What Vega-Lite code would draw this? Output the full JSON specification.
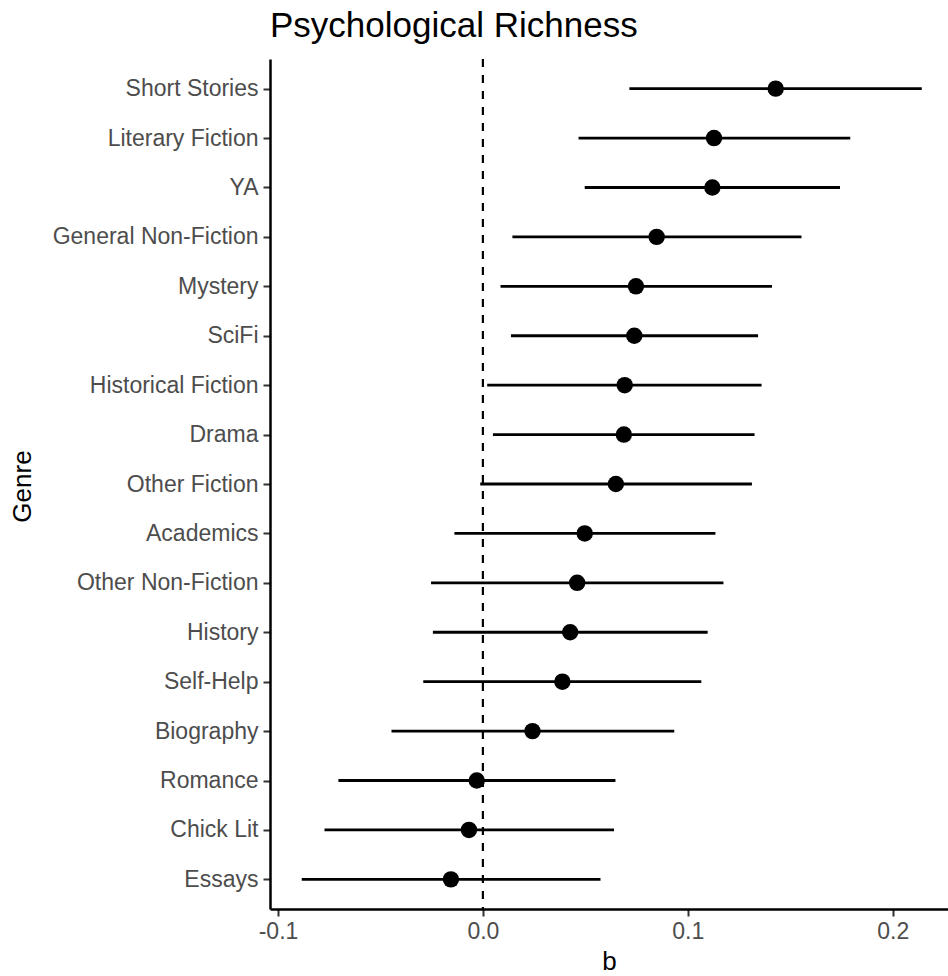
{
  "$schema": "https://vega.github.io/schema/vega-lite/v6.json",
  "width": 678,
  "height": 850,
  "autosize": {"type": "none"},
  "padding": {"left": 270, "top": 59, "right": 0, "bottom": 67},
  "background": "white",
  "title": {
    "text": "Psychological Richness",
    "anchor": "start",
    "frame": "group",
    "font": "Liberation Sans",
    "fontSize": 35,
    "fontWeight": "normal",
    "color": "#000000",
    "offset": 14
  },
  "datasets": {
    "estimates": [
      {"genre": "Short Stories", "b": 0.1429, "lower": 0.0715, "upper": 0.2142},
      {"genre": "Literary Fiction", "b": 0.1128, "lower": 0.0467, "upper": 0.1793},
      {"genre": "YA", "b": 0.112, "lower": 0.0497, "upper": 0.1743},
      {"genre": "General Non-Fiction", "b": 0.0848, "lower": 0.0144, "upper": 0.1555},
      {"genre": "Mystery", "b": 0.0747, "lower": 0.0086, "upper": 0.1411},
      {"genre": "SciFi", "b": 0.0739, "lower": 0.0137, "upper": 0.1343},
      {"genre": "Historical Fiction", "b": 0.0692, "lower": 0.0021, "upper": 0.136},
      {"genre": "Drama", "b": 0.0688, "lower": 0.0049, "upper": 0.1326},
      {"genre": "Other Fiction", "b": 0.0649, "lower": -0.0013, "upper": 0.1313},
      {"genre": "Academics", "b": 0.0497, "lower": -0.0139, "upper": 0.1135},
      {"genre": "Other Non-Fiction", "b": 0.046, "lower": -0.0253, "upper": 0.1174},
      {"genre": "History", "b": 0.0426, "lower": -0.0244, "upper": 0.1097},
      {"genre": "Self-Help", "b": 0.0388, "lower": -0.0291, "upper": 0.1066},
      {"genre": "Biography", "b": 0.0242, "lower": -0.0446, "upper": 0.0934},
      {"genre": "Romance", "b": -0.003, "lower": -0.0705, "upper": 0.0647},
      {"genre": "Chick Lit", "b": -0.0068, "lower": -0.0773, "upper": 0.064},
      {"genre": "Essays", "b": -0.0156, "lower": -0.0884, "upper": 0.0574}
    ],
    "reference": [{"ref": 0}]
  },
  "config": {
    "view": {"stroke": null},
    "axis": {
      "domainColor": "#000000",
      "domainWidth": 2.5,
      "tickColor": "#333333",
      "tickWidth": 2,
      "tickSize": 7,
      "grid": false,
      "labelFont": "Liberation Sans",
      "labelFontSize": 23,
      "labelColor": "#4D4D4D",
      "labelLimit": 0,
      "titleFont": "Liberation Sans",
      "titleFontSize": 26,
      "titleFontWeight": "normal",
      "titleColor": "#000000"
    }
  },
  "layer": [
    {
      "data": {"name": "reference"},
      "mark": {"type": "rule", "color": "#000000", "strokeWidth": 2.2, "strokeDash": [8, 8]},
      "encoding": {
        "x": {"field": "ref", "type": "quantitative"}
      }
    },
    {
      "data": {"name": "estimates"},
      "mark": {"type": "rule", "color": "#000000", "strokeWidth": 2.8},
      "encoding": {
        "y": {"field": "genre", "type": "nominal"},
        "x": {"field": "lower", "type": "quantitative"},
        "x2": {"field": "upper"}
      }
    },
    {
      "data": {"name": "estimates"},
      "mark": {"type": "point", "filled": true, "color": "#000000", "opacity": 1, "size": 270},
      "encoding": {
        "y": {"field": "genre", "type": "nominal"},
        "x": {"field": "b", "type": "quantitative"}
      }
    }
  ],
  "resolve": {"scale": {"x": "shared", "y": "shared"}},
  "encoding": {
    "x": {
      "type": "quantitative",
      "scale": {"domain": [-0.1039, 0.227], "nice": false, "zero": false},
      "axis": {
        "title": "b",
        "values": [-0.1, 0, 0.1, 0.2],
        "labelExpr": "datum.value < 0 ? '-' + format(-datum.value, '.1f') : format(datum.value, '.1f')",
        "labelPadding": 4,
        "titlePadding": 5
      }
    },
    "y": {
      "type": "nominal",
      "sort": null,
      "scale": {"type": "point", "padding": 0.6},
      "axis": {
        "title": "Genre",
        "labelPadding": 5,
        "titleX": -235,
        "titleY": 427
      }
    }
  }
}
